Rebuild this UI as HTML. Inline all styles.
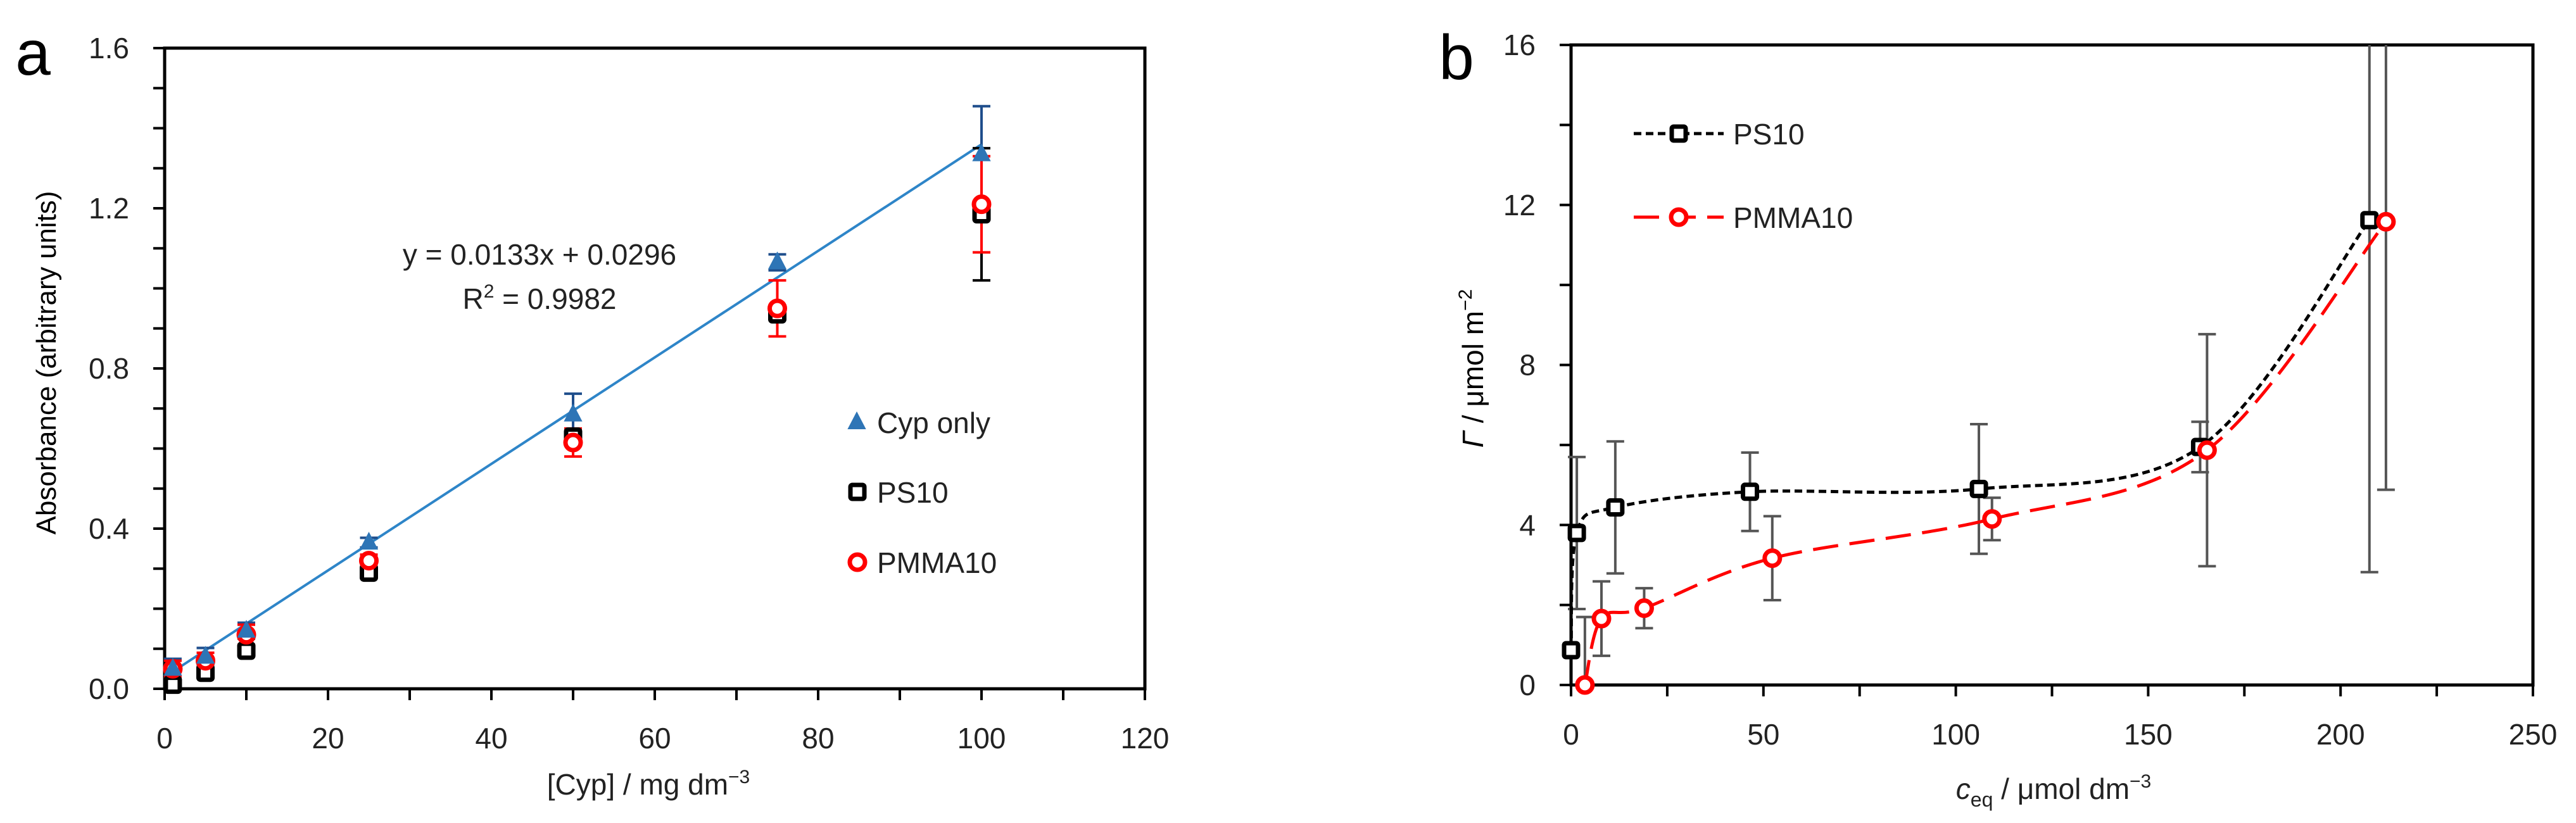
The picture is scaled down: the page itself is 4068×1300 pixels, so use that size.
<!DOCTYPE html>
<html><head><meta charset="utf-8"><style>
html,body{margin:0;padding:0;background:#fff;}
svg{display:block;font-family:"Liberation Sans","DejaVu Sans",sans-serif;}
</style></head><body>
<svg id="fig" width="4068" height="1300" viewBox="0 0 4068 1300" xmlns="http://www.w3.org/2000/svg">
<g id="pa"></g>
<g id="pb"></g>
</svg>
<script>
// ---- Panel a data ----
const aX = [1, 5, 10, 25, 50, 75, 100];
const aCyp = [0.05, 0.08, 0.145, 0.365, 0.685, 1.065, 1.335];
const aCypErr = [0.025, 0.022, 0.02, 0.012, 0.052, 0.02, 0.12];
const aPS = [0.01, 0.04, 0.095, 0.29, 0.63, 0.935, 1.185];
const aPSErr = [0.01, 0.01, 0.01, 0.01, 0.01, 0.01, 0.165];
const aPM = [0.05, 0.07, 0.135, 0.32, 0.615, 0.95, 1.21];
const aPMErr = [0.02, 0.02, 0.025, 0.015, 0.035, 0.07, 0.12];
const aFit = [0.0133, 0.0296];
const aXTicks = [0, 20, 40, 60, 80, 100, 120];
const aYTicks = [0.0, 0.4, 0.8, 1.2, 1.6];
// ---- Panel b data ----
const bPSx = [0, 1.5, 11.5, 46.5, 106, 163.5, 207.5];
const bPSy = [0.87, 3.8, 4.44, 4.83, 4.9, 5.95, 11.62];
const bPSErr = [0, 1.9, 1.65, 0.98, 1.62, 0.63, 8.8];
const bPMx = [3.6, 7.9, 19, 52.3, 109.4, 165.3, 211.8];
const bPMy = [0, 1.66, 1.92, 3.17, 4.15, 5.87, 11.58];
const bPMErr = [1.7, 0.93, 0.5, 1.05, 0.53, 2.9, 6.7];
const bXTicks = [0, 50, 100, 150, 200, 250];
const bYTicks = [0, 4, 8, 12, 16];

const NS = "http://www.w3.org/2000/svg";
function mk(parent, tag, attrs, txt) {
  const e = document.createElementNS(NS, tag);
  for (const k in attrs) e.setAttribute(k, attrs[k]);
  if (txt !== undefined) e.textContent = txt;
  parent.appendChild(e);
  return e;
}
// axis functions
const axA = {x0:260, x1:1808, y0:1088, y1:76, xmin:0, xmax:120, ymin:0, ymax:1.6};
const axB = {x0:2481, x1:4000, y0:1082, y1:71, xmin:0, xmax:250, ymin:0, ymax:16};
function sx(ax, v){ return ax.x0 + (v-ax.xmin)/(ax.xmax-ax.xmin)*(ax.x1-ax.x0); }
function sy(ax, v){ return ax.y0 - (v-ax.ymin)/(ax.ymax-ax.ymin)*(ax.y0-ax.y1); }
function cy(ax, v){ return Math.max(ax.y1, Math.min(ax.y0, sy(ax, v))); }

function frame(g, ax, xminor, yminor, xt, yt, fmt) {
  const f = mk(g, "rect", {x:ax.x0, y:ax.y1, width:ax.x1-ax.x0, height:ax.y0-ax.y1, fill:"none", stroke:"#000", "stroke-width":5});
  
  
  for (let v = ax.xmin; v <= ax.xmax + 1e-9; v += xminor) {
    const t = mk(g, "line", {x1:sx(ax,v), x2:sx(ax,v), y1:ax.y0, y2:ax.y0+18, stroke:"#000", "stroke-width":4});
    
    
  }
  for (let v = ax.ymin; v <= ax.ymax + 1e-9; v += yminor) {
    const t = mk(g, "line", {x1:ax.x0-18, x2:ax.x0, y1:sy(ax,v), y2:sy(ax,v), stroke:"#000", "stroke-width":4});
    
    
  }
  xt.forEach(v => {
    const t = mk(g, "text", {x:sx(ax,v), y:ax.y0+94, "font-size":46, "text-anchor":"middle", fill:"#222"}, String(v));
    
    
  });
  yt.forEach(v => {
    const t = mk(g, "text", {x:ax.x0-56, y:sy(ax,v)+16, "font-size":46, "text-anchor":"end", fill:"#222"}, fmt(v));
    
    
  });
}
function errbar(g, ax, x, y, e, color, w, cap) {
  if (!e) return;
  const X = sx(ax,x), top = cy(ax,y+e), bot = cy(ax,y-e);
  const l = mk(g, "path", {d:`M${X},${top}V${bot}` + (sy(ax,y+e)>=ax.y1?`M${X-cap},${top}H${X+cap}`:"") + `M${X-cap},${bot}H${X+cap}`, stroke:color, "stroke-width":w, fill:"none"});
  
  
}
function square(g, X, Y, name) {
  const s = mk(g, "rect", {x:X-11, y:Y-11, width:22, height:22, rx:3, fill:"#fff", stroke:"#000", "stroke-width":7});
  
  
}
function circle(g, X, Y, name) {
  const c = mk(g, "circle", {cx:X, cy:Y, r:12, fill:"#fff", stroke:"#f00", "stroke-width":7});
  
  
}
function tri(g, X, Y, name) {
  const t = mk(g, "path", {d:`M${X},${Y-15}L${X+13},${Y+10}L${X-13},${Y+10}Z`, fill:"#2E75B6", stroke:"#2E75B6", "stroke-width":2});
  
  
}
function smooth(pts) {
  let d = `M${pts[0][0]},${pts[0][1]}`;
  for (let i = 0; i < pts.length-1; i++) {
    const p0 = pts[Math.max(0,i-1)], p1 = pts[i], p2 = pts[i+1], p3 = pts[Math.min(pts.length-1,i+2)];
    const t = 0.5/3*2;
    const c1 = [p1[0]+(p2[0]-p0[0])*t/2, p1[1]+(p2[1]-p0[1])*t/2];
    const c2 = [p2[0]-(p3[0]-p1[0])*t/2, p2[1]-(p3[1]-p1[1])*t/2];
    d += ` C${c1[0]},${c1[1]} ${c2[0]},${c2[1]} ${p2[0]},${p2[1]}`;
  }
  return d;
}

// ===== Panel a =====
const ga = document.getElementById("pa");
frame(ga, axA, 10, 0.1, aXTicks, aYTicks, v => v.toFixed(1));
{
  const t = mk(ga, "text", {x:52, y:118, "font-size":100, "text-anchor":"middle", fill:"#000"}, "a");
   
  const yt = mk(ga, "text", {x:0, y:0, "font-size":44, "text-anchor":"middle", fill:"#000", transform:"translate(88,573) rotate(-90)"}, "Absorbance (arbitrary units)");
   
  const xt = mk(ga, "text", {x:1024, y:1255, "font-size":46, "text-anchor":"middle", fill:"#222"}, "[Cyp] / mg dm");
   
  mk(xt, "tspan", {dy:-18, "font-size":30}, "−3");
  const eq = mk(ga, "text", {x:852, y:418, "font-size":46, "text-anchor":"middle", fill:"#222"}, "y = 0.0133x + 0.0296");
   
  const r2 = mk(ga, "text", {x:852, y:488, "font-size":46, "text-anchor":"middle", fill:"#222"}, "R");
   
  mk(r2, "tspan", {dy:-18, "font-size":30}, "2");
  mk(r2, "tspan", {dy:18}, " = 0.9982");
}
// fit line
{
  const xa = aX[0], xb = aX[aX.length-1];
  const l = mk(ga, "line", {x1:sx(axA,xa), y1:sy(axA,aFit[0]*xa+aFit[1]), x2:sx(axA,xb), y2:sy(axA,aFit[0]*xb+aFit[1]), stroke:"#2E85C8", "stroke-width":4});
   
}
aX.forEach((x,i) => { errbar(ga, axA, x, aCyp[i], aCypErr[i], "#1F4E8C", 4, 14); });
aX.forEach((x,i) => { errbar(ga, axA, x, aPS[i], aPSErr[i], "#000", 4, 14); });
aX.forEach((x,i) => { errbar(ga, axA, x, aPM[i], aPMErr[i], "#f00", 4, 14); });
aX.forEach((x,i) => square(ga, sx(axA,x), sy(axA,aPS[i]), "ps10-point"));
aX.forEach((x,i) => circle(ga, sx(axA,x), sy(axA,aPM[i]), "pmma10-point"));
aX.forEach((x,i) => tri(ga, sx(axA,x), sy(axA,aCyp[i]), "cyp-only-point"));
// legend a
{
  tri(ga, 1353, 667, "legend-cyp-marker");
  const t1 = mk(ga, "text", {x:1385, y:684, "font-size":46, fill:"#222"}, "Cyp only");
   
  square(ga, 1354, 777, "legend-ps10-marker");
  const t2 = mk(ga, "text", {x:1385, y:794, "font-size":46, fill:"#222"}, "PS10");
   
  circle(ga, 1354, 888, "legend-pmma10-marker");
  const t3 = mk(ga, "text", {x:1385, y:905, "font-size":46, fill:"#222"}, "PMMA10");
   
}

// ===== Panel b =====
const gb = document.getElementById("pb");
frame(gb, axB, 25, 2, bXTicks, bYTicks, v => String(v));
{
  const t = mk(gb, "text", {x:2300, y:125, "font-size":100, "text-anchor":"middle", fill:"#000"}, "b");
   
  const yt = mk(gb, "text", {x:0, y:0, "font-size":46, "text-anchor":"middle", fill:"#000", transform:"translate(2342,582) rotate(-90)"});
   
  mk(yt, "tspan", {"font-style":"italic"}, "Γ");
  mk(yt, "tspan", {}, " / μmol m");
  mk(yt, "tspan", {dy:-18, "font-size":30}, "−2");
  const xt = mk(gb, "text", {x:3243, y:1262, "font-size":46, "text-anchor":"middle", fill:"#222"});
   
  mk(xt, "tspan", {"font-style":"italic"}, "c");
  mk(xt, "tspan", {dy:12, "font-size":32}, "eq");
  mk(xt, "tspan", {dy:-12}, " / μmol dm");
  mk(xt, "tspan", {dy:-18, "font-size":30}, "−3");
}
{
  const g = mk(gb, "g", {"clip-path":"none"});
  bPSx.forEach((x,i) => errbar(gb, axB, x, bPSy[i], bPSErr[i], "#555", 4, 14));
  bPMx.forEach((x,i) => errbar(gb, axB, x, bPMy[i], bPMErr[i], "#555", 4, 14));
  const ps = mk(gb, "path", {d:smooth(bPSx.map((x,i)=>[sx(axB,x), sy(axB,bPSy[i])])), fill:"none", stroke:"#000", "stroke-width":5, "stroke-dasharray":"12 7"});
   
  const pm = mk(gb, "path", {d:smooth(bPMx.map((x,i)=>[sx(axB,x), sy(axB,bPMy[i])])), fill:"none", stroke:"#f00", "stroke-width":5, "stroke-dasharray":"40 18"});
   
  bPSx.forEach((x,i) => square(gb, sx(axB,x), sy(axB,bPSy[i]), "ps10-point"));
  bPMx.forEach((x,i) => circle(gb, sx(axB,x), sy(axB,bPMy[i]), "pmma10-point"));
}
// legend b
{
  const l1 = mk(gb, "line", {x1:2580, x2:2722, y1:211, y2:211, stroke:"#000", "stroke-width":5, "stroke-dasharray":"12 7"});
   
  square(gb, 2651, 211, "legend-ps10-marker");
  const t1 = mk(gb, "text", {x:2737, y:228, "font-size":46, fill:"#222"}, "PS10");
   
  const l2 = mk(gb, "line", {x1:2580, x2:2722, y1:343, y2:343, stroke:"#f00", "stroke-width":5, "stroke-dasharray":"40 18"});
   
  circle(gb, 2651, 343, "legend-pmma10-marker");
  const t2 = mk(gb, "text", {x:2737, y:360, "font-size":46, fill:"#222"}, "PMMA10");
   
}
</script>
</body></html>
